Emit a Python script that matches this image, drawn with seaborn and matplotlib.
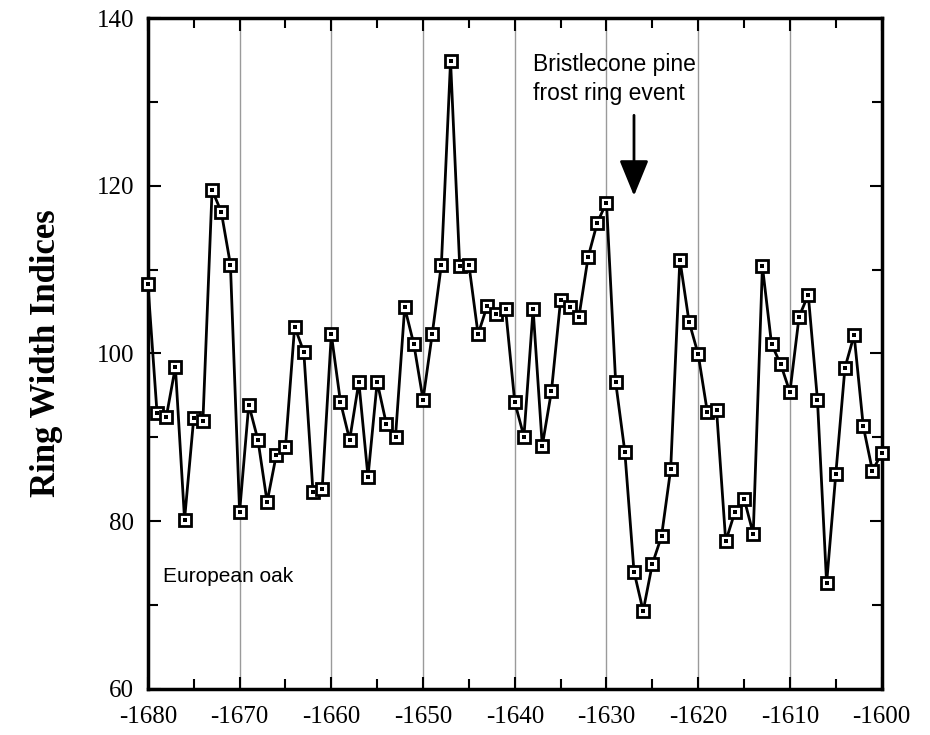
import numpy as np
import pandas as pd
import matplotlib
matplotlib.use("Agg")
import matplotlib.pyplot as plt
import seaborn as sns
from matplotlib.ticker import MultipleLocator

years = list(range(-1680, -1599))
ring_width = [108.3, 92.9, 92.4, 98.4, 80.2, 92.3, 91.9, 119.5, 116.9, 110.6,
              81.1, 93.9, 89.7, 82.3, 87.9, 88.8, 103.2, 100.2, 83.5, 83.8,
              102.3, 94.2, 89.7, 96.6, 85.3, 96.6, 91.6, 90.1, 105.5, 101.1,
              94.5, 102.3, 110.6, 134.9, 110.4, 110.6, 102.3, 105.7, 104.7, 105.3,
              94.2, 90.1, 105.3, 89.0, 95.5, 106.4, 105.6, 104.4, 111.5, 115.6,
              118.0, 96.6, 88.3, 74.0, 69.3, 74.9, 78.2, 86.2, 111.2, 103.8,
              99.9, 93.0, 93.3, 77.6, 81.1, 82.7, 78.5, 110.4, 101.1, 98.7,
              95.4, 104.4, 107.0, 94.5, 72.6, 85.6, 98.3, 102.2, 91.3, 86.0, 88.1]

x_ticks = list(range(-1680, -1599, 10))
y_ticks = [60, 80, 100, 120, 140]
series_label = "European oak"
event_label = "Bristlecone pine\nfrost ring event"
event_year = -1627
y_label = "Ring Width Indices"

df = pd.DataFrame({"year": years, "rw": ring_width})

sns.set_style("ticks")
plt.rcParams["font.family"] = ["Liberation Serif", "DejaVu Serif"]
plt.rcParams["axes.unicode_minus"] = False
plt.rcParams["text.color"] = "black"
plt.rcParams["xtick.color"] = "black"
plt.rcParams["ytick.color"] = "black"
plt.rcParams["axes.labelcolor"] = "black"

fig = plt.figure(figsize=(9.3, 7.35), dpi=100)
ax = fig.add_axes([0.159, 0.0626, 0.789, 0.9129])

# decade grid lines
for xv in x_ticks[1:-1]:
    ax.axvline(xv, color="#9a9a9a", lw=1.0, zorder=0)

sns.lineplot(data=df, x="year", y="rw", ax=ax, color="black", lw=2.0,
             marker="s", markersize=9, markerfacecolor="white",
             markeredgecolor="black", markeredgewidth=2.0, zorder=3,
             clip_on=False)
sns.scatterplot(data=df, x="year", y="rw", ax=ax, color="black", marker="s",
                s=6, linewidth=0, zorder=4, clip_on=False)

ax.set_xlim(-1680, -1600)
ax.set_ylim(60, 140)
ax.set_xticks(x_ticks)
ax.set_yticks(y_ticks)
ax.xaxis.set_minor_locator(MultipleLocator(5))
ax.yaxis.set_minor_locator(MultipleLocator(10))
ax.tick_params(which="both", direction="in", top=True, right=True,
               labelsize=18, width=1.5, colors="black")
ax.tick_params(which="major", length=9)
ax.tick_params(which="minor", length=7)
ax.tick_params(axis="x", which="major", pad=12)
ax.tick_params(axis="y", which="major", pad=10)
for s in ax.spines.values():
    s.set_visible(True)
    s.set_linewidth(2.5)
    s.set_color("black")

ax.set_xlabel("")
ax.set_ylabel(y_label, fontsize=25, fontweight="bold",
              family=["Liberation Serif", "DejaVu Serif"])
ax.yaxis.set_label_coords(-0.115, 0.50)

ax.text(-1678.4, 72.8, series_label, fontsize=15, va="baseline", ha="left",
        family=["Liberation Sans", "DejaVu Sans"])
ax.text(-1638, 135.8, event_label, fontsize=16.5, va="top", ha="left",
        linespacing=1.3, family=["Liberation Sans", "DejaVu Sans"])
ax.annotate("", xy=(event_year, 118.8), xytext=(event_year, 128.4),
            arrowprops=dict(arrowstyle="-|>,head_length=1.1,head_width=0.45",
                            lw=2.0, color="black", mutation_scale=20,
                            shrinkA=0, shrinkB=0))

fig.savefig("out.png", dpi=100)
